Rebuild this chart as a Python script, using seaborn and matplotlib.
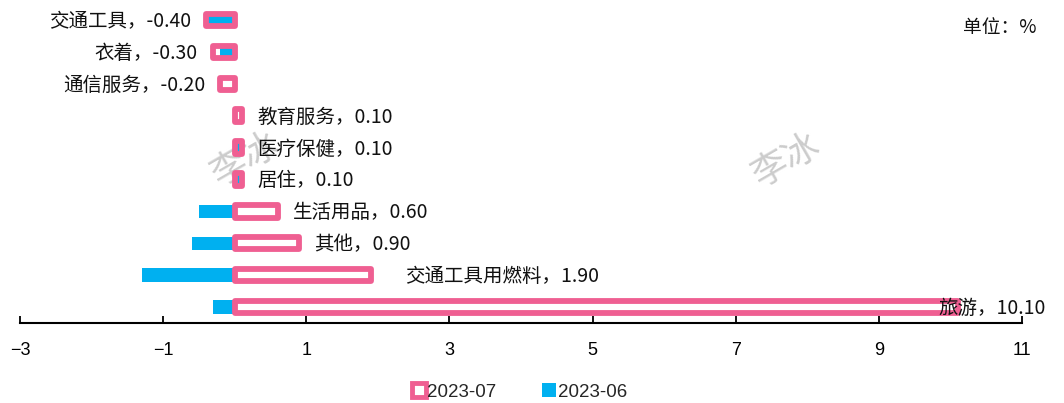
import matplotlib
matplotlib.use("Agg")
import matplotlib.pyplot as plt
from matplotlib.patches import Patch
import seaborn as sns
import pandas as pd

# ---- data ----
categories = ["交通工具", "衣着", "通信服务", "教育服务", "医疗保健",
              "居住", "生活用品", "其他", "交通工具用燃料", "旅游"]
jul_values = [-0.40, -0.30, -0.20, 0.10, 0.10, 0.10, 0.60, 0.90, 1.90, 10.10]
jun_values = [-0.40, -0.20, 0.00, 0.00, 0.10, 0.10, -0.50, -0.60, -1.30, -0.30]
series_names = ["2023-07", "2023-06"]
x_ticks = [-3, -1, 1, 3, 5, 7, 9, 11]
unit_text = "单位：%"
watermark = "李冰"

# label horizontal offsets (points) – style only
label_dx = [11, 11, 11, 11, 11, 11, 11, 11, 25, -14]

PINK = "#EF5F92"
BLUE = "#00B0F0"

sns.set_theme(style="white")
plt.rcParams["font.family"] = ["Noto Sans CJK SC", "DejaVu Sans"]
plt.rcParams["axes.unicode_minus"] = True

df = pd.DataFrame({"cat": categories, "jul": jul_values, "jun": jun_values})

fig = plt.figure(figsize=(10.64, 4.03), dpi=100)
ax = fig.add_axes([20 / 1064, 1 - 323 / 403, 1002 / 1064, 319 / 403])
ax.patch.set_alpha(0)

# blue bars (2023-06)
sns.barplot(data=df, y="cat", x="jun", order=categories, color=BLUE,
            saturation=1, width=0.42, ax=ax, zorder=2, linewidth=0)
# pink outlined bars (2023-07)
sns.barplot(data=df, y="cat", x="jul", order=categories, color=PINK,
            saturation=1, width=0.39, ax=ax, zorder=3)
for p in ax.containers[1]:
    p.set_facecolor("none")
    p.set_edgecolor(PINK)
    p.set_linewidth(4.2)
    p.set_joinstyle("round")
    p.set_zorder(3)

ax.set_xlim(x_ticks[0], x_ticks[-1])
ax.set_ylim(len(categories) - 0.5, -0.5)
ax.set_xticks(x_ticks)
ax.set_xticklabels([f"{t}".replace("-", "\u2212") for t in x_ticks],
                   fontfamily=["Liberation Sans", "DejaVu Sans"], fontsize=13)
ax.set_yticks([])
ax.set_xlabel("")
ax.set_ylabel("")
for s in ["top", "right", "left"]:
    ax.spines[s].set_visible(False)
ax.spines["bottom"].set_color("black")
ax.spines["bottom"].set_linewidth(1.5)
ax.spines["bottom"].set_zorder(5)
ax.tick_params(axis="x", direction="in", length=5, width=1.3, color="black",
               pad=14, bottom=True, labelcolor="black")

# value labels
for i, (c, v) in enumerate(zip(categories, jul_values)):
    txt = f"{c}，{v:.2f}"
    if v < 0:
        ax.annotate(txt, (v, i), xytext=(-label_dx[i], -1), textcoords="offset points",
                    ha="right", va="center", fontsize=14, color="#111111", zorder=6)
    else:
        ax.annotate(txt, (v, i), xytext=(label_dx[i], -1), textcoords="offset points",
                    ha="left", va="center", fontsize=14, color="#111111", zorder=6)

# unit text
fig.text(1037 / 1064, 1 - 28 / 403, unit_text, ha="right", va="center",
         fontsize=13.5, color="#111111")

# watermarks (below bars)
for wx, wy in [(245, 160), (786, 161)]:
    ax.text(wx / 1064, 1 - wy / 403, watermark, transform=fig.transFigure,
            ha="center", va="center", fontsize=26, color="#cccccc",
            rotation=30, zorder=0)

# legend
handles = [Patch(facecolor="white", edgecolor=PINK, linewidth=3.5, joinstyle="round"),
           Patch(facecolor=BLUE, edgecolor="none")]
leg = fig.legend(handles, series_names, loc="center", bbox_to_anchor=(0.488, 1 - 392 / 403),
                 ncol=2, frameon=False, handlelength=0.75, handleheight=0.75,
                 handletextpad=0.1, columnspacing=2.4,
                 prop={"family": ["Liberation Sans", "DejaVu Sans"], "size": 13.5})

fig.savefig("out.png", dpi=100)
